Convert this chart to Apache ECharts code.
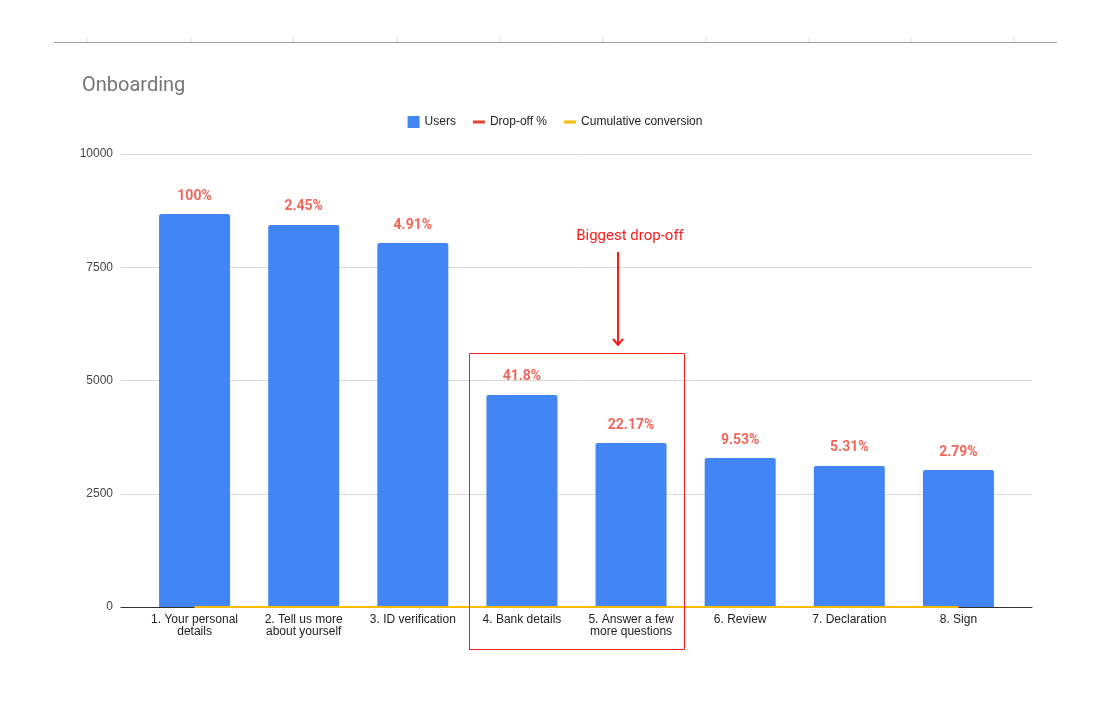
<!DOCTYPE html>
<html>
<head>
<meta charset="utf-8">
<script src="https://cdn.jsdelivr.net/npm/echarts@6/dist/echarts.min.js"></script>
<style>
  html, body { margin: 0; padding: 0; background: #fff; }
  #chart { width: 1110px; height: 707px; }
</style>
</head>
<body>
<div id="chart"></div>
<script>
// step names along the funnel
const steps = [
  '1. Your personal\ndetails',
  '2. Tell us more\nabout yourself',
  '3. ID verification',
  '4. Bank details',
  '5. Answer a few\nmore questions',
  '6. Review',
  '7. Declaration',
  '8. Sign'
]
const users = [8675, 8433, 8035, 4680, 3620, 3289, 3113, 3024]
// drop-off shown as labels, in percent
const dropOffPct = [100, 2.45, 4.91, 41.8, 22.17, 9.53, 5.31, 2.79]
const cumulative = [1, 0.97, 0.93, 0.54, 0.42, 0.38, 0.36, 0.35]
const yTicks = { min: 0, max: 10000, step: 2500 }

const red = '#ff1a1a'
const labelFont = 'Liberation Sans, Arial, sans-serif'
// short dash for the line series in the legend (tiny corner dots keep the 12x12 box)
const dashIcon = 'path://M0,0h0.01v0.01h-0.01z M0,4.5h12v3h-12z M11.99,11.99h0.01v0.01h-0.01z'

// little ticks over the top rule
const topTicks = [87, 191, 293, 397, 500, 603, 706, 809, 911, 1014].map(function(x) {
  return {
    type: 'line',
    shape: { x1: x, y1: 37, x2: x, y2: 42 },
    style: { stroke: '#dddddd', lineWidth: 1 }
  }
})

const chart = echarts.init(document.getElementById('chart'))
chart.setOption({
  animation: false,
  backgroundColor: '#ffffff',
  title: {
    text: 'Onboarding',
    left: 77,
    top: 71,
    textStyle: { fontFamily: 'Roboto, Arial, sans-serif', fontSize: 20, fontWeight: 'normal', color: '#757575' }
  },
  legend: {
    top: 111,
    left: 'center',
    itemWidth: 12,
    itemHeight: 12,
    itemGap: 17,
    textStyle: { fontFamily: labelFont, fontSize: 12, color: '#222222' },
    data: [
      { name: 'Users', icon: 'rect' },
      { name: 'Drop-off %', icon: dashIcon },
      { name: 'Cumulative conversion', icon: dashIcon }
    ]
  },
  grid: [
    { left: 140, right: 97, top: 154, bottom: 100 },
    { left: 121, right: 78, top: 154, bottom: 100 }
  ],
  xAxis: [
    {
      type: 'category',
      gridIndex: 0,
      data: steps,
      axisLine: { show: false },
      axisTick: { show: false },
      axisLabel: { interval: 0, margin: 7, fontFamily: labelFont, fontSize: 12, lineHeight: 12, color: '#222222' }
    },
    {
      type: 'category',
      gridIndex: 1,
      data: [''],
      axisLine: { show: true, lineStyle: { color: '#333333', width: 1 } },
      axisTick: { show: false },
      axisLabel: { show: false }
    }
  ],
  yAxis: [
    {
      type: 'value',
      gridIndex: 0,
      min: yTicks.min,
      max: yTicks.max,
      interval: yTicks.step,
      show: false
    },
    {
      type: 'value',
      gridIndex: 1,
      min: yTicks.min,
      max: yTicks.max,
      interval: yTicks.step,
      axisLine: { show: false },
      axisTick: { show: false },
      splitLine: { lineStyle: { color: '#d9d9d9' } },
      axisLabel: {
        margin: 8,
        fontFamily: labelFont,
        fontSize: 12,
        color: '#444444',
        formatter: function(v) { return String(v) }
      }
    }
  ],
  series: [
    {
      name: 'Users',
      type: 'bar',
      data: users,
      barWidth: 71,
      itemStyle: { color: '#4285f4', borderRadius: [2, 2, 0, 0] },
      label: {
        show: true,
        position: 'top',
        distance: 11,
        fontFamily: 'Roboto, Arial, sans-serif',
        fontSize: 14,
        fontWeight: 'bold',
        color: '#f2665a',
        formatter: function(p) { return dropOffPct[p.dataIndex] + '%' }
      }
    },
    {
      name: 'Drop-off %',
      type: 'line',
      data: dropOffPct.map(function(v) { return v / 100 }),
      symbol: 'none',
      lineStyle: { color: '#ea4335', width: 2 },
      itemStyle: { color: '#ea4335' },
      z: 3
    },
    {
      name: 'Cumulative conversion',
      type: 'line',
      data: cumulative,
      symbol: 'none',
      lineStyle: { color: '#fbbc04', width: 2 },
      itemStyle: { color: '#fbbc04' },
      z: 4
    }
  ],
  graphic: topTicks.concat([
    {
      type: 'line',
      shape: { x1: 54, y1: 42.5, x2: 1057, y2: 42.5 },
      style: { stroke: '#9e9e9e', lineWidth: 1 }
    },
    {
      type: 'rect',
      shape: { x: 469.5, y: 353.5, width: 215, height: 296 },
      style: { fill: 'none', stroke: red, lineWidth: 1 },
      z: 10
    },
    {
      type: 'text',
      x: 630,
      y: 236,
      style: {
        text: 'Biggest drop-off',
        fill: red,
        font: '15px Roboto, Arial, sans-serif',
        textAlign: 'center',
        textVerticalAlign: 'middle'
      },
      z: 10
    },
    {
      type: 'line',
      shape: { x1: 618, y1: 252, x2: 618, y2: 345 },
      style: { stroke: red, lineWidth: 2 },
      z: 10
    },
    {
      type: 'polyline',
      shape: { points: [[613, 339], [618, 345], [623, 339]] },
      style: { stroke: red, lineWidth: 2, fill: 'none' },
      z: 10
    }
  ])
})
</script>
</body>
</html>
